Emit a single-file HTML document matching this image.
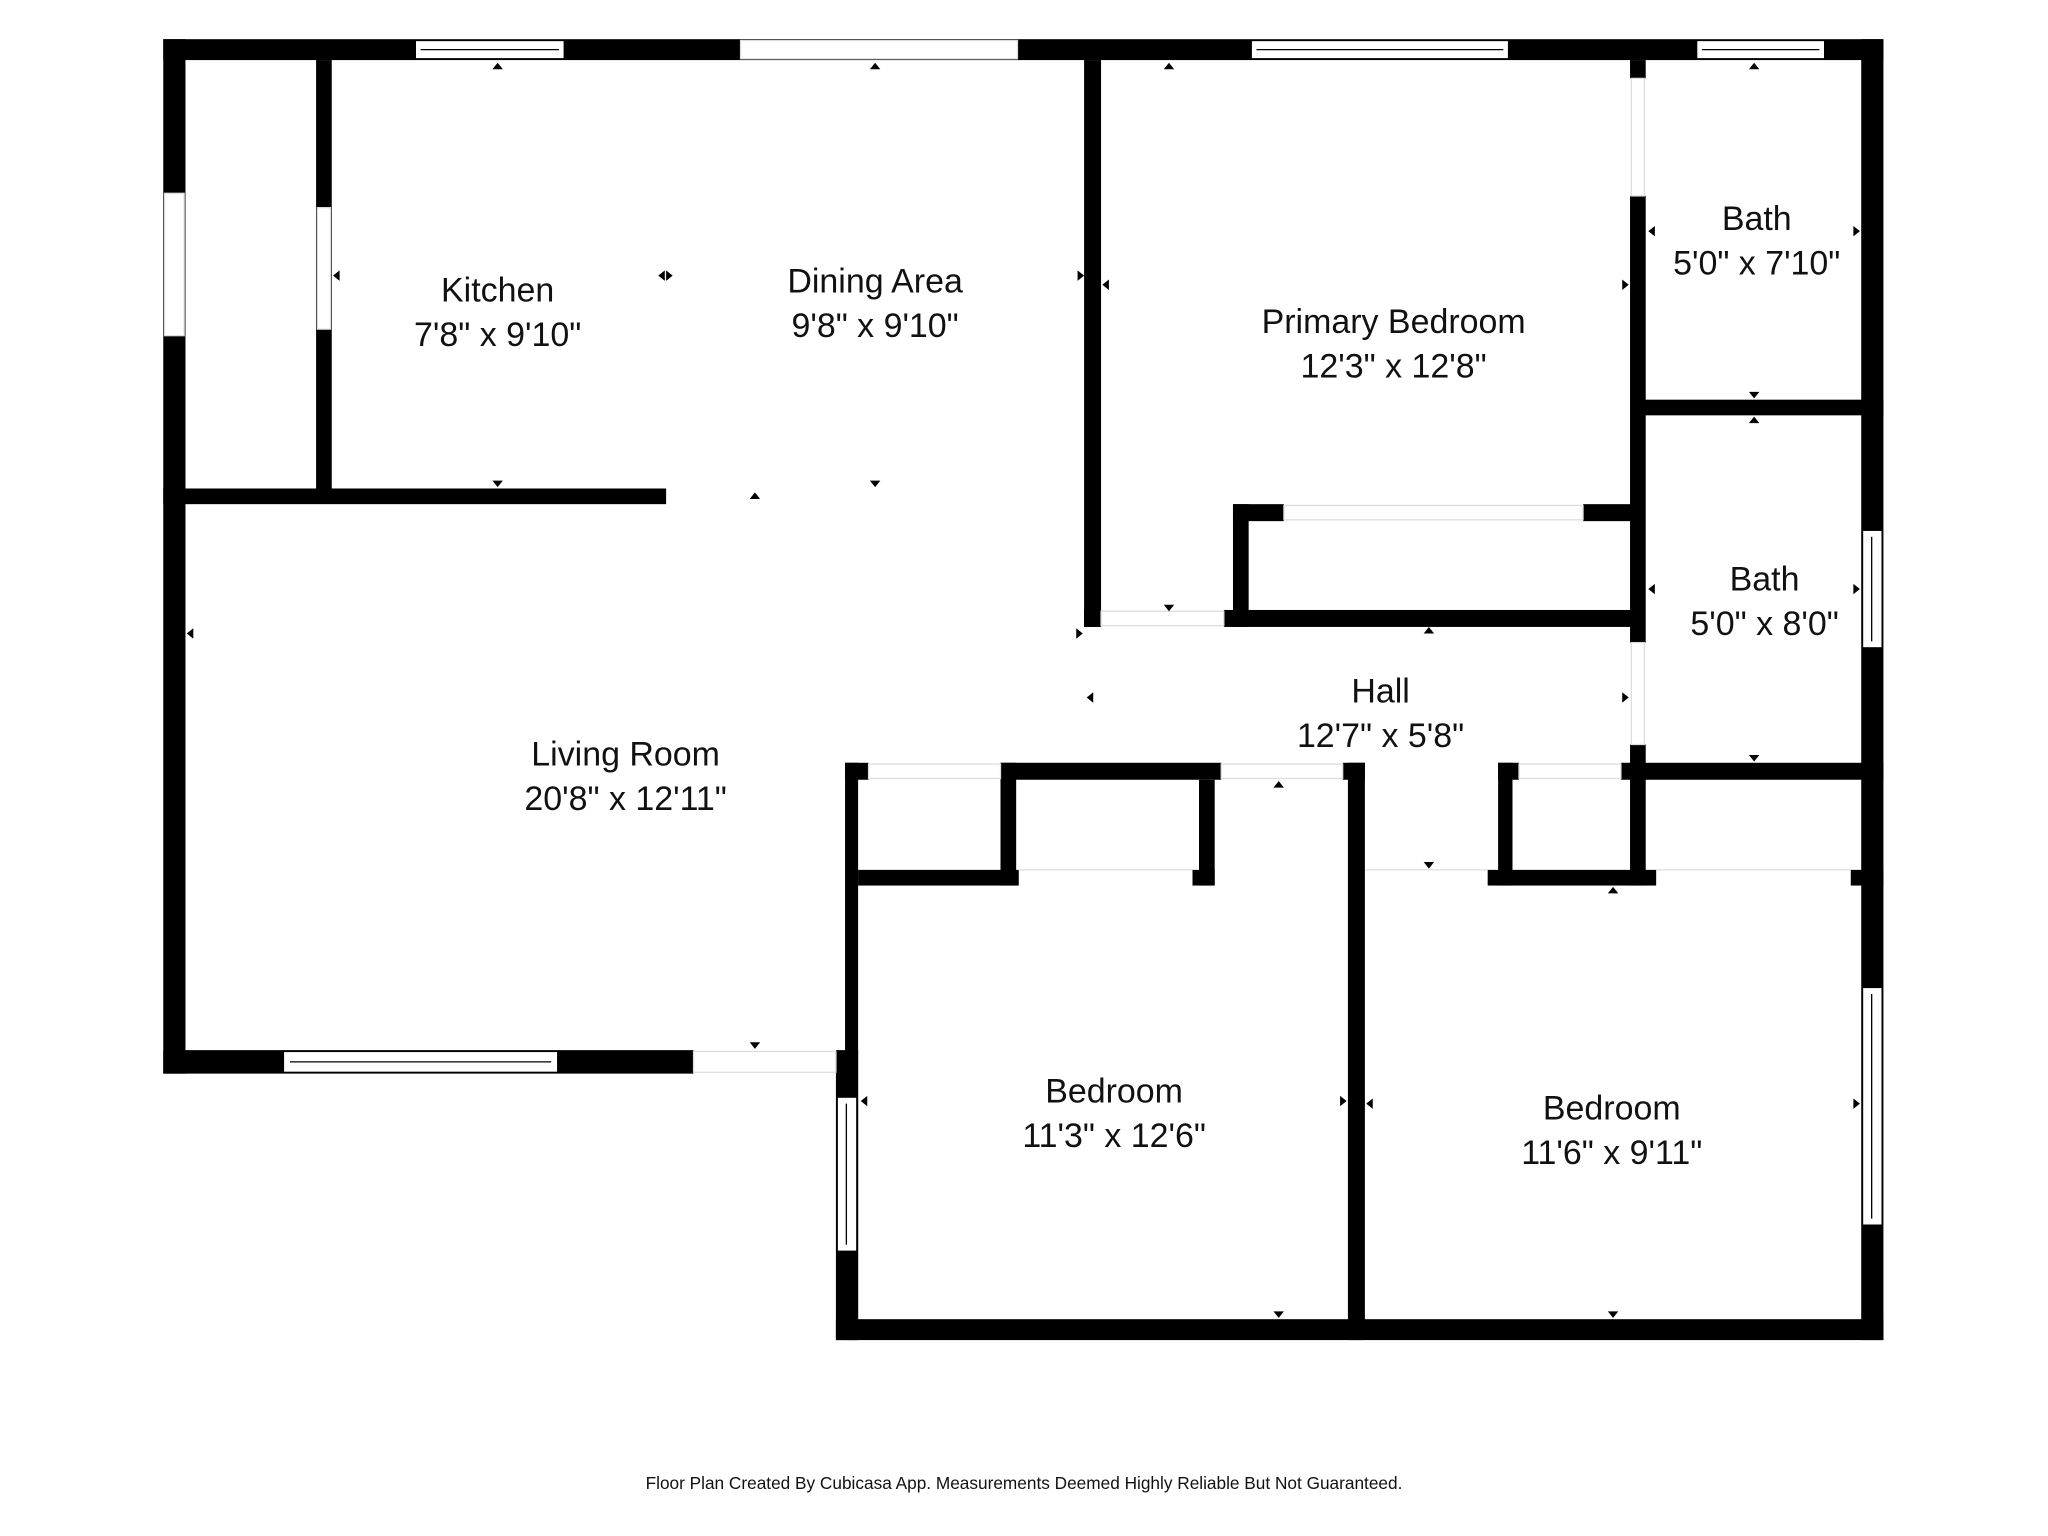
<!DOCTYPE html>
<html><head><meta charset="utf-8"><style>
html,body{margin:0;padding:0;background:#fff;}
svg{display:block;}
text{font-family:"Liberation Sans",sans-serif;fill:#111;text-anchor:middle;}
</style></head><body>
<svg width="2048" height="1536" viewBox="0 0 1568 1176" preserveAspectRatio="none" xmlns="http://www.w3.org/2000/svg">
<rect width="1568" height="1176" fill="#fff"/>
<g fill="#000">
<rect x="125" y="30" width="1317" height="16"/>
<rect x="125" y="30" width="17" height="792"/>
<rect x="242" y="46" width="12" height="334"/>
<rect x="125" y="374" width="385" height="12"/>
<rect x="125" y="804" width="406" height="18"/>
<rect x="647" y="584" width="10" height="442"/>
<rect x="640" y="804" width="17" height="222"/>
<rect x="640" y="1010" width="802" height="16"/>
<rect x="1425" y="30" width="17" height="996"/>
<rect x="830" y="46" width="13" height="434"/>
<rect x="937" y="467" width="318" height="13"/>
<rect x="830" y="467" width="13" height="13"/>
<rect x="944" y="386" width="12" height="94"/>
<rect x="944" y="386" width="39" height="13"/>
<rect x="1212" y="386" width="43" height="13"/>
<rect x="1248" y="46" width="12" height="14"/>
<rect x="1248" y="150" width="12" height="342"/>
<rect x="1248" y="570" width="12" height="108"/>
<rect x="1255" y="306" width="187" height="12"/>
<rect x="647" y="584" width="18" height="13"/>
<rect x="766" y="584" width="169" height="13"/>
<rect x="1028" y="584" width="17" height="13"/>
<rect x="1147" y="584" width="16" height="13"/>
<rect x="1241" y="584" width="201" height="13"/>
<rect x="766" y="584" width="12" height="94"/>
<rect x="657" y="666" width="123" height="12"/>
<rect x="918" y="597" width="12" height="81"/>
<rect x="913" y="666" width="17" height="12"/>
<rect x="1032" y="584" width="13" height="442"/>
<rect x="1147" y="584" width="11" height="94"/>
<rect x="1139" y="666" width="129" height="12"/>
<rect x="1417" y="666" width="25" height="12"/>
</g>
<g fill="#fff" stroke="#ddd" stroke-width="1">
<rect x="567" y="31" width="212" height="14"/>
<rect x="126" y="148" width="15" height="109"/>
<rect x="243" y="159" width="10" height="93"/>
<rect x="843" y="468" width="94" height="11"/>
<rect x="983" y="387" width="229" height="11"/>
<rect x="1249" y="60" width="10" height="90"/>
<rect x="1249" y="492" width="10" height="78"/>
<rect x="665" y="585" width="101" height="11"/>
<rect x="935" y="585" width="93" height="11"/>
<rect x="1163" y="585" width="78" height="11"/>
<rect x="531" y="805" width="109" height="16"/>
</g>
<g fill="#fff" stroke="#000" stroke-width="1">
<rect x="318" y="31" width="114" height="14"/><line x1="322" y1="38" x2="428" y2="38"/>
<rect x="958" y="31" width="197" height="14"/><line x1="962" y1="38" x2="1151" y2="38"/>
<rect x="1299" y="31" width="98" height="14"/><line x1="1303" y1="38" x2="1393" y2="38"/>
<rect x="217" y="805" width="210" height="16"/><line x1="222" y1="813" x2="422" y2="813"/>
<rect x="641" y="840" width="15" height="118"/><line x1="648" y1="845" x2="648" y2="953"/>
<rect x="1426" y="406" width="15" height="90"/><line x1="1433" y1="411" x2="1433" y2="491"/>
<rect x="1426" y="756" width="15" height="182"/><line x1="1433" y1="761" x2="1433" y2="933"/>
</g>
<g stroke="#ddd" stroke-width="1">
<line x1="780" y1="666" x2="913" y2="666"/>
<line x1="1045" y1="666" x2="1139" y2="666"/>
<line x1="1268" y1="666" x2="1417" y2="666"/>
</g>
<g fill="#000">
<path d="M381,48l-4,5h8z"/><path d="M670,48l-4,5h8z"/><path d="M895,48l-4,5h8z"/><path d="M1343,48l-4,5h8z"/>
<path d="M381,373l-4,-5h8z"/><path d="M670,373l-4,-5h8z"/><path d="M578,377l-4,5h8z"/>
<path d="M895,468l-4,-5h8z"/><path d="M1094,480l-4,5h8z"/><path d="M1343,305l-4,-5h8z"/><path d="M1343,319l-4,5h8z"/>
<path d="M1343,583l-4,-5h8z"/><path d="M979,598l-4,5h8z"/><path d="M1094,665l-4,-5h8z"/><path d="M1235,679l-4,5h8z"/>
<path d="M578,803l-4,-5h8z"/><path d="M979,1009l-4,-5h8z"/><path d="M1235,1009l-4,-5h8z"/>
<path d="M143,485l5,-4v8z"/><path d="M255,211l5,-4v8z"/><path d="M515,211l-5,-4v8z"/><path d="M504,211l5,-4v8z"/>
<path d="M830,211l-5,-4v8z"/><path d="M844,218l5,-4v8z"/><path d="M1247,218l-5,-4v8z"/>
<path d="M1262,177l5,-4v8z"/><path d="M1424,177l-5,-4v8z"/><path d="M1262,451l5,-4v8z"/><path d="M1424,451l-5,-4v8z"/>
<path d="M829,485l-5,-4v8z"/><path d="M832,534l5,-4v8z"/><path d="M1247,534l-5,-4v8z"/>
<path d="M659,843l5,-4v8z"/><path d="M1031,843l-5,-4v8z"/><path d="M1046,845l5,-4v8z"/><path d="M1424,845l-5,-4v8z"/>
</g>
<g font-size="26">
<text x="381" y="231">Kitchen</text><text x="381" y="265">7'8" x 9'10"</text>
<text x="670" y="224">Dining Area</text><text x="670" y="258">9'8" x 9'10"</text>
<text x="1067" y="255">Primary Bedroom</text><text x="1067" y="289">12'3" x 12'8"</text>
<text x="1345" y="176">Bath</text><text x="1345" y="210">5'0" x 7'10"</text>
<text x="1351" y="452">Bath</text><text x="1351" y="486">5'0" x 8'0"</text>
<text x="1057" y="538">Hall</text><text x="1057" y="572">12'7" x 5'8"</text>
<text x="479" y="586">Living Room</text><text x="479" y="620">20'8" x 12'11"</text>
<text x="853" y="844">Bedroom</text><text x="853" y="878">11'3" x 12'6"</text>
<text x="1234" y="857">Bedroom</text><text x="1234" y="891">11'6" x 9'11"</text>
</g>
<text x="784" y="1140" font-size="13.2">Floor Plan Created By Cubicasa App. Measurements Deemed Highly Reliable But Not Guaranteed.</text>
</svg>
</body></html>
